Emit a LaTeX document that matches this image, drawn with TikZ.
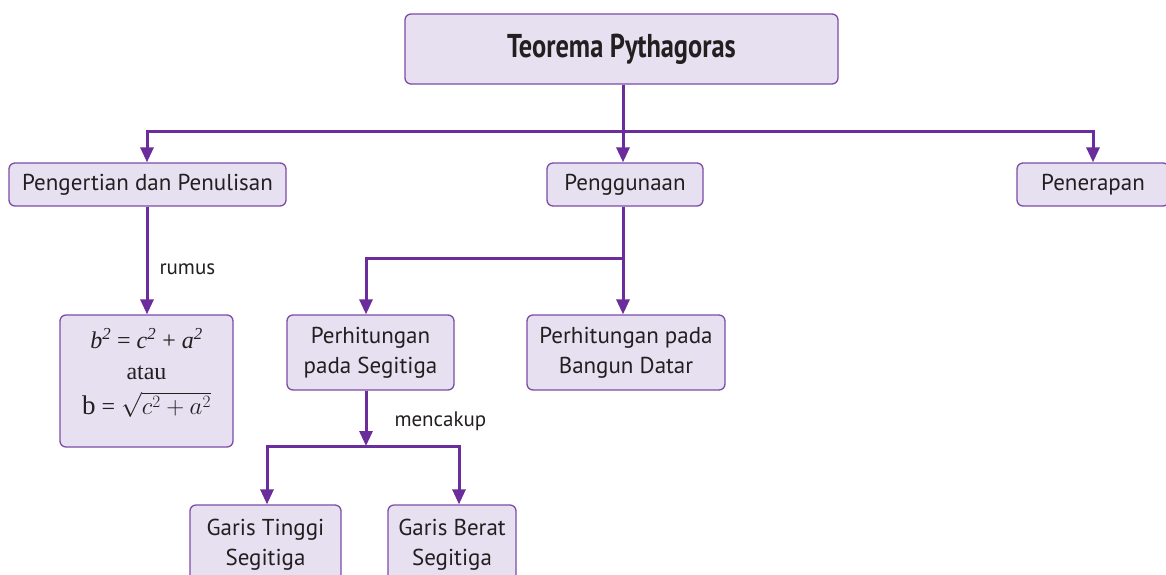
\documentclass[tikz,border=0pt]{standalone}
\usepackage{fontspec}
\usepackage{graphicx}
\setmainfont{PT Sans}
\newfontfamily\frmserif{Liberation Serif}
\usetikzlibrary{arrows.meta}
\definecolor{boxfill}{HTML}{E7E0F0}
\definecolor{boxline}{HTML}{7D4BA8}
\definecolor{conn}{HTML}{6B2D9B}
\definecolor{txt}{HTML}{231F20}
\tikzset{
  conbox/.style={draw=boxline, fill=boxfill, line width=1.3pt, rounded corners=6pt,
    text=txt, align=center, inner sep=0pt, font=\fontsize{23}{30}\selectfont},
  link/.style={draw=conn, line width=3pt, -{Triangle[length=15pt,width=13pt]}},
  plain/.style={draw=conn, line width=3pt},
  lbl/.style={text=txt, font=\fontsize{21}{24}\selectfont, inner sep=0pt, anchor=west}
}
\begin{document}
\begin{tikzpicture}[x=1pt,y=-1pt]
\clip (0,0) rectangle (1166,574);
\fill[white] (0,0) rectangle (1166,574);
% nodes
\node[conbox, minimum width=433pt, minimum height=70pt] (title) at (621.5,49)
  {\fontsize{33}{36}\selectfont\bfseries\scalebox{0.8}[1]{Teorema Pythagoras}};
\node[conbox, minimum width=277pt, minimum height=43pt] (peng) at (147.5,184.5) {Pengertian dan Penulisan};
\node[conbox, minimum width=156pt, minimum height=43pt] (guna) at (625,184.5) {Penggunaan};
\node[conbox, minimum width=152pt, minimum height=43pt] (terap) at (1093,184.5) {Penerapan};
\node[conbox, minimum width=173pt, minimum height=132pt] (rumus) at (146.5,381) {};
\node[text=txt, align=center, inner sep=0pt, font=\fontsize{24}{34}\selectfont\frmserif] (rumustext) at (146.5,373)
  {{\itshape b\textsuperscript{2}} = {\itshape c\textsuperscript{2}} + {\itshape a\textsuperscript{2}}\\[-3pt]atau\\[1pt]{\fontsize{27}{34}\selectfont b} = $\sqrt{c^2+a^2}$};
\node[conbox, minimum width=167pt, minimum height=75pt] (segi) at (370.5,352.5) {Perhitungan\\pada Segitiga};
\node[conbox, minimum width=198pt, minimum height=75pt] (datar) at (626,352.5) {Perhitungan pada\\Bangun Datar};
\node[conbox, minimum width=151pt, minimum height=80pt] (tinggi) at (265.5,545) {Garis Tinggi\\Segitiga};
\node[conbox, minimum width=128pt, minimum height=80pt] (berat) at (452,545) {Garis Berat\\Segitiga};
% junction coordinates
\coordinate (j1) at (623,131);
\coordinate (j2) at (623,258);
\coordinate (j3) at (366,446);
% connectors
\draw[plain] (title.south -| j1) -- (j1);
\draw[link] (j1) -- (guna.north -| j1);
\draw[link] (j1) -| (peng.north -| 147,0);
\draw[link] (j1) -| (terap.north -| 1093,0);
\draw[link] (peng.south -| 147,0) -- node[lbl, pos=0.58, xshift=11pt] {rumus} (rumus.north -| 147,0);
\draw[plain] (guna.south -| j2) -- (j2);
\draw[link] (j2) -- (datar.north -| j2);
\draw[link] (j2) -| (segi.north -| 366,0);
\draw[link] (segi.south -| j3) -- node[lbl, pos=0.55, xshift=27pt] {mencakup} (j3);
\draw[link] (j3) -| (tinggi.north -| 267,0);
\draw[link] (j3) -| (berat.north -| 459,0);
\end{tikzpicture}
\end{document}
